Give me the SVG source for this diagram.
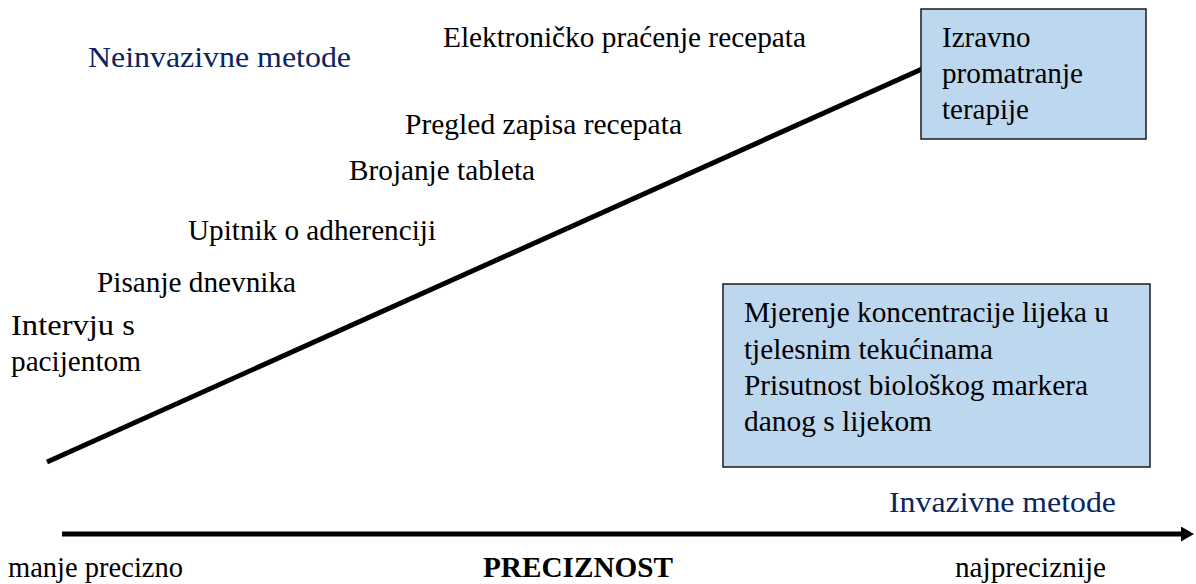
<svg xmlns="http://www.w3.org/2000/svg" width="1196" height="584" viewBox="0 0 1196 584">
<defs>
<style>
text{font-family:"Liberation Serif","Times New Roman",serif;font-size:29px;fill:#000}
.navy{fill:#0b2462;font-size:30px}
.bold{font-weight:bold}
.box{fill:#bdd7ee;stroke:#1a1a1a;stroke-width:1.5}
.line{stroke:#000;stroke-width:5;fill:none}
</style>
<marker id="ah" markerWidth="4" markerHeight="4" refX="0.6" refY="1.5" orient="auto" markerUnits="strokeWidth">
<path d="M0,0 L2.6,1.5 L0,3 Z" fill="#000"/>
</marker>
</defs>
<rect width="1196" height="584" fill="#fff"/>
<g id="connectors">
<line class="line" x1="47" y1="462" x2="922" y2="69"/>
<line class="line" x1="62" y1="534" x2="1184" y2="534" marker-end="url(#ah)"/>
</g>
<g id="label-neinvazivne"><text class="navy" x="88" y="67" textLength="263" lengthAdjust="spacingAndGlyphs">Neinvazivne metode</text></g>
<g id="node-elektronicko"><text x="443" y="47" textLength="363" lengthAdjust="spacingAndGlyphs">Elektroničko praćenje recepata</text></g>
<g id="node-pregled"><text x="405" y="134" textLength="277" lengthAdjust="spacingAndGlyphs">Pregled zapisa recepata</text></g>
<g id="node-brojanje"><text x="349" y="180" textLength="186" lengthAdjust="spacingAndGlyphs">Brojanje tableta</text></g>
<g id="node-upitnik"><text x="188" y="240" textLength="248" lengthAdjust="spacingAndGlyphs">Upitnik o adherenciji</text></g>
<g id="node-pisanje"><text x="97" y="292" textLength="199" lengthAdjust="spacingAndGlyphs">Pisanje dnevnika</text></g>
<g id="node-intervju">
<text x="11" y="335" textLength="124" lengthAdjust="spacingAndGlyphs">Intervju s</text>
<text x="11" y="371" textLength="130" lengthAdjust="spacingAndGlyphs">pacijentom</text>
</g>
<g id="node-izravno">
<rect class="box" x="921" y="9" width="225" height="130"/>
<text x="942" y="47">Izravno</text>
<text x="942" y="83" textLength="141" lengthAdjust="spacingAndGlyphs">promatranje</text>
<text x="942" y="119">terapije</text>
</g>
<g id="node-mjerenje">
<rect class="box" x="723" y="284" width="427" height="183"/>
<text x="744" y="322" textLength="365" lengthAdjust="spacingAndGlyphs">Mjerenje koncentracije lijeka u</text>
<text x="744" y="359" textLength="249" lengthAdjust="spacingAndGlyphs">tjelesnim tekućinama</text>
<text x="744" y="395" textLength="344" lengthAdjust="spacingAndGlyphs">Prisutnost biološkog markera</text>
<text x="744" y="431" textLength="188" lengthAdjust="spacingAndGlyphs">danog s lijekom</text>
</g>
<g id="label-invazivne"><text class="navy" x="889" y="512" textLength="227" lengthAdjust="spacingAndGlyphs">Invazivne metode</text></g>
<g id="label-manje"><text x="8" y="577" textLength="175" lengthAdjust="spacingAndGlyphs">manje precizno</text></g>
<g id="label-preciznost"><text class="bold" x="483" y="577" textLength="190" lengthAdjust="spacingAndGlyphs">PRECIZNOST</text></g>
<g id="label-najpreciznije"><text x="955" y="577" textLength="151" lengthAdjust="spacingAndGlyphs">najpreciznije</text></g>
</svg>
